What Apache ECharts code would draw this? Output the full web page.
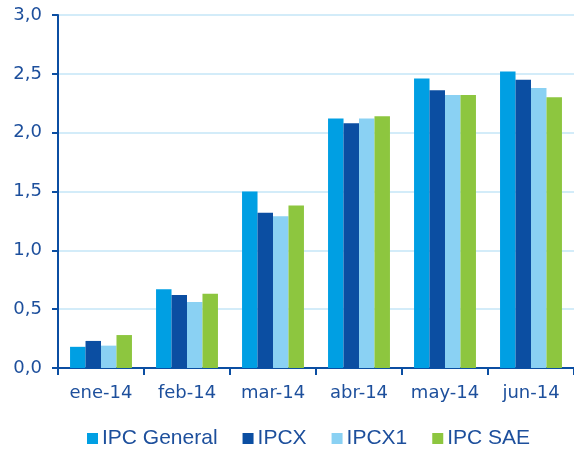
<!DOCTYPE html>
<html>
<head>
<meta charset="utf-8">
<script src="https://cdn.jsdelivr.net/npm/echarts@6/dist/echarts.min.js"></script>
<style>
  html, body { margin: 0; padding: 0; background: #fff; }
  #chart { width: 574px; height: 454px; }
</style>
</head>
<body>
<div id="chart"></div>
<script>
// meses
const months = ['ene-14', 'feb-14', 'mar-14', 'abr-14', 'may-14', 'jun-14'];

// series (variación, %)
const ipcGeneral = [0.18, 0.67, 1.50, 2.12, 2.46, 2.52];
const ipcx       = [0.23, 0.62, 1.32, 2.08, 2.36, 2.45];
const ipcx1      = [0.19, 0.56, 1.29, 2.12, 2.32, 2.38];
const ipcSae     = [0.28, 0.63, 1.38, 2.14, 2.32, 2.30];

const seriesNames = ['IPC General', 'IPCX', 'IPCX1', 'IPC SAE'];
const seriesColors = ['#009fe3', '#0b4ea2', '#8ad1f3', '#8dc63f'];

const axisBlue = '#0b4ea2';
const textBlue = '#1d4f9c';
const axisFont = 'DejaVu Sans, sans-serif';
const legendFont = 'Liberation Sans, Arial, sans-serif';

const myChart = echarts.init(document.getElementById('chart'));

const data = [ipcGeneral, ipcx, ipcx1, ipcSae];

myChart.setOption({
    animation: false,
    grid: { left: 58, right: 0, top: 15, bottom: 86 },
    legend: {
        top: 423,
        left: 82,
        itemWidth: 11,
        itemHeight: 11,
        itemGap: 25,
        icon: 'rect',
        textStyle: { color: textBlue, fontSize: 21, fontFamily: legendFont, padding: [0, 0, 0, -1] },
        data: seriesNames
    },
    xAxis: {
        type: 'category',
        data: months,
        axisLine: { lineStyle: { color: axisBlue, width: 2 } },
        axisTick: { show: true, interval: 0, length: 7, lineStyle: { color: axisBlue, width: 2 } },
        axisLabel: { color: textBlue, fontSize: 18, fontFamily: axisFont, margin: 16, interval: 0 }
    },
    yAxis: {
        type: 'value',
        min: 0,
        max: 3,
        interval: 0.5,
        axisLine: { show: true, lineStyle: { color: axisBlue, width: 2 } },
        axisTick: { show: true, length: 6, lineStyle: { color: axisBlue, width: 2 } },
        axisLabel: {
            color: textBlue, fontSize: 18, fontFamily: axisFont, margin: 16,
            formatter: v => v.toFixed(1).replace('.', ',')
        },
        splitLine: { lineStyle: { color: '#d3ecf9', width: 2 } }
    },
    series: seriesNames.map((name, i) => ({
        name: name,
        type: 'bar',
        data: data[i],
        barGap: '0%',
        barCategoryGap: '28%',
        itemStyle: { color: seriesColors[i] }
    }))
});
</script>
</body>
</html>
